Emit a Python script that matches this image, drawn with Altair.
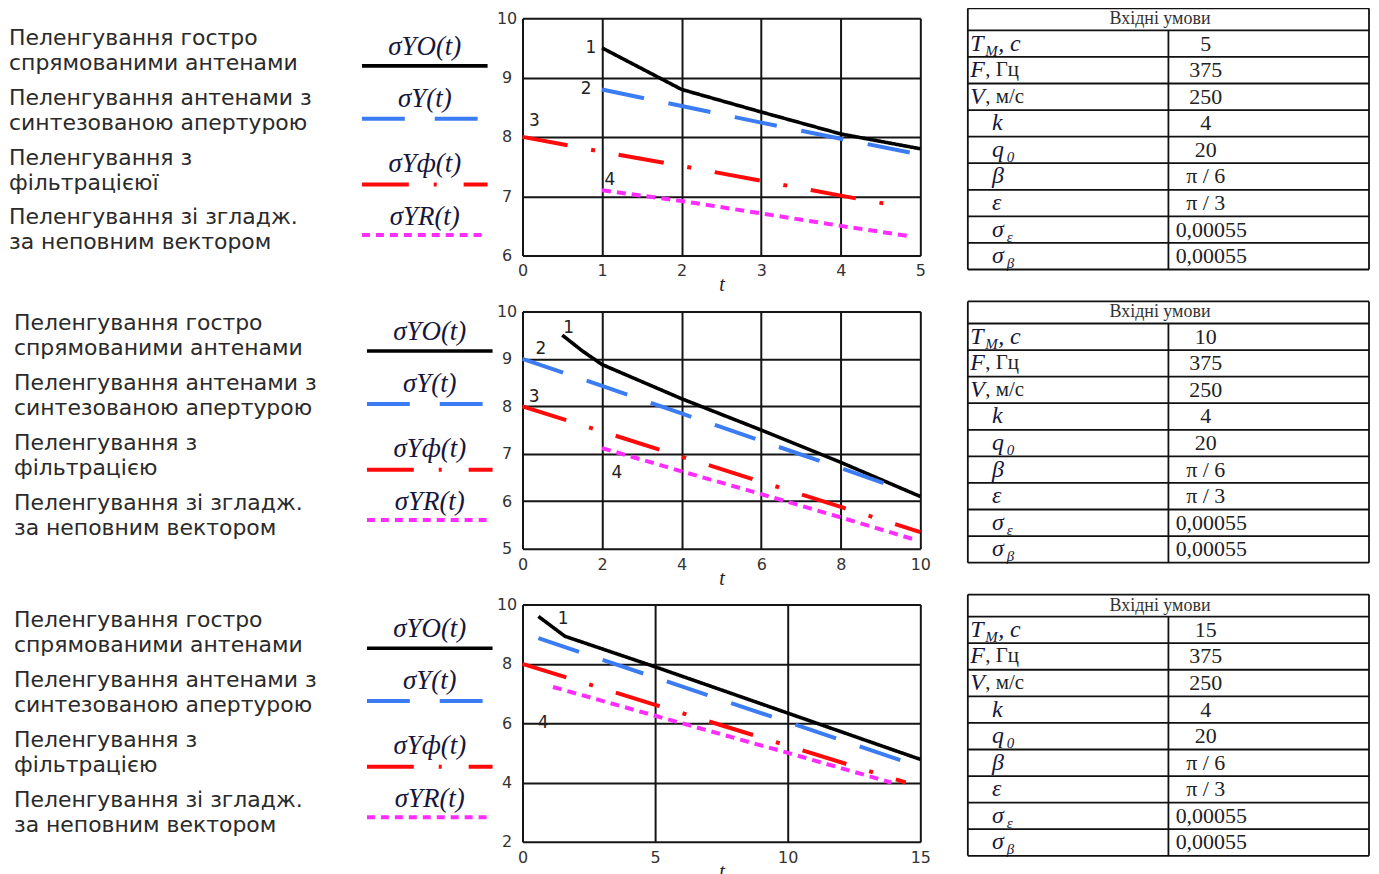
import altair as alt
import pandas as pd

# ---------------- data ----------------
# Row 1 (T_M = 5)
R1_S1_T = [1, 1.5, 2, 3, 4, 5]
R1_S1_Y = [9.5, 9.15, 8.8, 8.42, 8.05, 7.8]
R1_S2_T = [1, 2, 3, 4, 5]
R1_S2_Y = [8.8, 8.52, 8.24, 7.97, 7.7]
R1_S3_T = [0, 1, 2, 3, 4, 4.7]
R1_S3_Y = [8.0, 7.75, 7.51, 7.26, 7.01, 6.84]
R1_S4_T = [1, 2, 3, 4, 4.85]
R1_S4_Y = [7.1, 6.92, 6.71, 6.5, 6.33]
R1_LAB = ["1", "2", "3", "4"]
R1_LAB_T = [0.86, 0.8, 0.15, 1.1]
R1_LAB_Y = [9.5, 8.8, 8.27, 7.27]

# Row 2 (T_M = 10)
R2_S1_T = [1, 1.5, 2, 4, 6, 8, 10]
R2_S1_Y = [9.5, 9.17, 8.88, 8.16, 7.5, 6.82, 6.1]
R2_S2_T = [0, 2, 4, 6, 8, 9.35]
R2_S2_Y = [9.0, 8.43, 7.85, 7.27, 6.7, 6.3]
R2_S3_T = [0, 2, 4, 6, 8, 10]
R2_S3_Y = [8.0, 7.47, 6.94, 6.41, 5.88, 5.35]
R2_S4_T = [2, 4, 6, 8, 9.9]
R2_S4_Y = [7.12, 6.63, 6.15, 5.66, 5.18]
R2_LAB = ["1", "2", "3", "4"]
R2_LAB_T = [1.16, 0.46, 0.29, 2.37]
R2_LAB_Y = [9.65, 9.2, 8.2, 6.6]

# Row 3 (T_M = 15)
R3_S1_T = [0.6, 1.6, 5, 10, 15]
R3_S1_Y = [9.6, 8.93, 7.9, 6.34, 4.78]
R3_S2_T = [0.6, 5, 10, 14.6]
R3_S2_Y = [8.87, 7.54, 6.04, 4.65]
R3_S3_T = [0, 5, 10, 14.45]
R3_S3_Y = [8.0, 6.62, 5.24, 4.0]
R3_S4_T = [1.15, 5, 10, 13.9]
R3_S4_Y = [7.22, 6.25, 5.0, 4.0]
R3_LAB = ["1", "4"]
R3_LAB_T = [1.53, 0.78]
R3_LAB_Y = [9.5, 6.0]

X_TICKS = [[0, 1, 2, 3, 4, 5], [0, 2, 4, 6, 8, 10], [0, 5, 10, 15]]
Y_TICKS = [[6, 7, 8, 9, 10], [5, 6, 7, 8, 9, 10], [2, 4, 6, 8, 10]]

LEGEND_LINE1 = ["Пеленгування гостро", "Пеленгування антенами з",
                "Пеленгування з", "Пеленгування зі згладж."]
LEGEND_LINE2 = [
    ["спрямованими антенами", "синтезованою апертурою", "фільтрацієюї", "за неповним вектором"],
    ["спрямованими антенами", "синтезованою апертурою", "фільтрацією", "за неповним вектором"],
    ["спрямованими антенами", "синтезованою апертурою", "фільтрацією", "за неповним вектором"],
]
LEGEND_SYM = ["σYO(t)", "σY(t)", "σYф(t)", "σYR(t)"]

TABLE_HEADER = "Вхідні умови"
PARAM_SYM = ["T", "F", "V", "k", "q", "β", "ε", "σ", "σ"]
PARAM_SUB = ["M", "", "", "", "0", "", "", "ε", "β"]
PARAM_REST = [", c", ", Гц", ", м/с", "", "", "", "", "", ""]
TM_VALUES = ["5", "10", "15"]
PARAM_VALUES = ["375", "250", "4", "20", "π / 6", "π / 3", "0,00055", "0,00055"]

# ---------------- styles / layout ----------------
SANS = "DejaVu Sans"
SERIF = "Liberation Serif"
TXT = "#2a2a2a"
SYMC = "#16163c"
GRID = "#151515"
COLORS = ["#000000", "#3b7cf4", "#ff0a0a", "#ff2cff"]
WIDTHS = [3.6, 4, 4, 4]
PLOT_DASH = [[1, 0], [43, 25], [46, 24, 4, 24], [9, 6]]
LEGEND_DASH = [[1, 0], [43, 30], [47, 25, 3, 27], [8, 6]]
SYM_DY = [-3.5, -11.5, -6.5, -13]
LINE_DY = [15.5, 8.5, 14.5, 5]
LEG_SHIFT_X = [0, 5, 5]
LEG_SHIFT_Y = [0, -8, -4]

PLOT_W, PLOT_H = 399, 238
LEG_W, PANEL_H = 487, 252
TAB_W = 438
TAB_X0 = -0.0886
HDR = -0.83
TAB_Y0 = HDR + 10 * (9 - HDR) / 262.0


def plot_panel(series_t, series_y, lab, lab_t, lab_y, xticks, yticks):
    xsc = alt.Scale(domain=[xticks[0], xticks[-1]], nice=False, zero=False)
    ysc = alt.Scale(domain=[yticks[0], yticks[-1]], nice=False, zero=False)
    xax = alt.Axis(values=xticks, grid=True, gridColor=GRID, gridWidth=2, gridOpacity=1,
                   domain=False, ticks=False, tickSize=0, labelFont=SANS, labelFontSize=16,
                   labelColor="#333333", labelPadding=7.5, labelFlush=False, labelOverlap=False,
                   format="d", title="t", titleFont=SERIF, titleFontStyle="italic",
                   titleFontWeight="normal", titleFontSize=20, titleColor="#222222",
                   titlePadding=-4)
    yax = alt.Axis(values=yticks, grid=True, gridColor=GRID, gridWidth=2, gridOpacity=1,
                   domain=False, ticks=False, tickSize=0, labelFont=SANS, labelFontSize=16,
                   labelColor="#333333", labelPadding=16, labelAlign="center",
                   labelBaseline="middle", labelFlush=False, labelOverlap=False,
                   format="d", title=None)
    layers = []
    for i in range(4):
        df = pd.DataFrame({"t": series_t[i], "v": series_y[i]})
        layers.append(
            alt.Chart(df).mark_line(color=COLORS[i], strokeWidth=WIDTHS[i],
                                    strokeDash=PLOT_DASH[i], strokeCap="butt")
            .encode(x=alt.X("t:Q", scale=xsc, axis=xax),
                    y=alt.Y("v:Q", scale=ysc, axis=yax))
        )
    ldf = pd.DataFrame({"n": lab, "t": lab_t, "v": lab_y})
    layers.append(
        alt.Chart(ldf).mark_text(font=SANS, fontSize=17, color="#222222", align="center",
                                 baseline="middle")
        .encode(x=alt.X("t:Q", scale=xsc, axis=xax), y=alt.Y("v:Q", scale=ysc, axis=yax),
                text="n:N")
    )
    return alt.layer(*layers).properties(width=PLOT_W, height=PLOT_H)


def legend_panel(line2, sx, sy):
    df = pd.DataFrame({"idx": list(range(4)), "l1": LEGEND_LINE1, "l2": line2,
                       "sym": LEGEND_SYM})
    d0 = -(32.3 + sy) / 60.0
    ysc = alt.Scale(domain=[d0, d0 + PANEL_H / 60.0], reverse=True, nice=False, zero=False)
    y = alt.Y("idx:Q", scale=ysc, axis=None)
    base = alt.Chart(df)
    layers = [
        base.mark_text(align="left", baseline="middle", dy=-12.5, font=SANS, fontSize=22,
                       color=TXT).encode(x=alt.value(sx), y=y, text="l1:N"),
        base.mark_text(align="left", baseline="middle", dy=12.5, font=SANS, fontSize=22,
                       color=TXT).encode(x=alt.value(sx), y=y, text="l2:N"),
    ]
    for i in range(4):
        sub = base.transform_filter(alt.datum.idx == i)
        layers.append(
            sub.mark_text(align="center", baseline="middle", dy=SYM_DY[i], font=SERIF,
                          fontStyle="italic", fontSize=27, color=SYMC)
            .encode(x=alt.value(417 + sx), y=y, text="sym:N")
        )
        layers.append(
            sub.mark_rule(color=COLORS[i], strokeWidth=WIDTHS[i], strokeDash=LEGEND_DASH[i],
                          strokeCap="butt", yOffset=LINE_DY[i])
            .encode(x=alt.value(354 + sx), x2=alt.value(480 + sx), y=y)
        )
    return alt.layer(*layers).properties(width=LEG_W, height=PANEL_H)


def table_panel(tm):
    vals = [tm] + PARAM_VALUES
    df = pd.DataFrame({"r": list(range(9)), "sym": PARAM_SYM, "sub": PARAM_SUB,
                       "rest": PARAM_REST, "val": vals})
    xsc = alt.Scale(domain=[TAB_X0, 1.0], nice=False, zero=False)
    ysc = alt.Scale(domain=[TAB_Y0, 9], reverse=True, nice=False, zero=False)
    base = (alt.Chart(df)
            .transform_calculate(yc="datum.r + 0.5",
                                 sx="datum.rest != '' ? 0.006 : 0.06",
                                 vx="length(datum.val) > 5 ? 0.518 : 0.593"))
    x_s = alt.X("sx:Q", scale=xsc, axis=None)
    y_c = alt.Y("yc:Q", scale=ysc, axis=None)
    x_v = alt.X("vx:Q", scale=xsc, axis=None)

    hlines = pd.DataFrame({"b": [HDR] + list(range(10))})
    vlines = pd.DataFrame({"x": [0, 0.5, 1], "y0": [HDR, 0, HDR], "y1": [9, 9, 9]})
    header = pd.DataFrame({"h": [TABLE_HEADER]})

    layers = [
        alt.Chart(hlines).transform_calculate(x0="0", x1="1")
        .mark_rule(color="#111111", strokeWidth=1.8)
        .encode(x=alt.X("x0:Q", scale=xsc, axis=None), x2="x1:Q",
                y=alt.Y("b:Q", scale=ysc, axis=None)),
        alt.Chart(vlines).mark_rule(color="#111111", strokeWidth=1.8)
        .encode(x=alt.X("x:Q", scale=xsc, axis=None),
                y=alt.Y("y0:Q", scale=ysc, axis=None), y2="y1:Q"),
        alt.Chart(header).transform_calculate(hx="0.479", hy=str(HDR / 2))
        .mark_text(font=SERIF, fontSize=18, color="#333333", align="center",
                   baseline="middle")
        .encode(x=alt.X("hx:Q", scale=xsc, axis=None),
                y=alt.Y("hy:Q", scale=ysc, axis=None), text="h:N"),
        base.mark_text(font=SERIF, fontStyle="italic", fontSize=24, color=SYMC,
                       align="left", baseline="middle")
        .encode(x=x_s, y=y_c, text="sym:N"),
        base.transform_filter("datum.sub != ''")
        .mark_text(font=SERIF, fontStyle="italic", fontSize=15, color=SYMC,
                   align="left", baseline="middle", dx=15, dy=7)
        .encode(x=x_s, y=y_c, text="sub:N"),
        base.transform_filter("datum.sub != '' && datum.rest != ''")
        .mark_text(font=SERIF, fontStyle="italic", fontSize=24, color=SYMC,
                   align="left", baseline="middle", dx=28)
        .encode(x=x_s, y=y_c, text="rest:N"),
        base.transform_filter("datum.sub == '' && datum.rest != ''")
        .mark_text(font=SERIF, fontSize=21, color="#222222",
                   align="left", baseline="middle", dx=15)
        .encode(x=x_s, y=y_c, text="rest:N"),
        base.transform_filter("length(datum.val) <= 5")
        .mark_text(font=SERIF, fontSize=22, color="#222222", align="center",
                   baseline="middle")
        .encode(x=x_v, y=y_c, text="val:N"),
        base.transform_filter("length(datum.val) > 5")
        .mark_text(font=SERIF, fontSize=22, color="#222222", align="left",
                   baseline="middle")
        .encode(x=x_v, y=y_c, text="val:N"),
    ]
    return alt.layer(*layers).properties(width=TAB_W, height=PANEL_H)


SERIES = [
    ([R1_S1_T, R1_S2_T, R1_S3_T, R1_S4_T], [R1_S1_Y, R1_S2_Y, R1_S3_Y, R1_S4_Y],
     R1_LAB, R1_LAB_T, R1_LAB_Y),
    ([R2_S1_T, R2_S2_T, R2_S3_T, R2_S4_T], [R2_S1_Y, R2_S2_Y, R2_S3_Y, R2_S4_Y],
     R2_LAB, R2_LAB_T, R2_LAB_Y),
    ([R3_S1_T, R3_S2_T, R3_S3_T, R3_S4_T], [R3_S1_Y, R3_S2_Y, R3_S3_Y, R3_S4_Y],
     R3_LAB, R3_LAB_T, R3_LAB_Y),
]

panels = []
for k in range(3):
    st, sy, lab, lt, ly = SERIES[k]
    panels.append(legend_panel(LEGEND_LINE2[k], LEG_SHIFT_X[k], LEG_SHIFT_Y[k]))
    panels.append(plot_panel(st, sy, lab, lt, ly, X_TICKS[k], Y_TICKS[k]))
    panels.append(table_panel(TM_VALUES[k]))

chart = (
    alt.ConcatChart(concat=panels, columns=3, spacing={"row": 4, "column": 0}, align="each")
    .properties(padding={"top": -3, "left": 0, "right": 0, "bottom": 0}, background="white")
    .configure_view(stroke="transparent")
)

chart.save("out.html", embed_options={"renderer": "svg", "actions": False})
